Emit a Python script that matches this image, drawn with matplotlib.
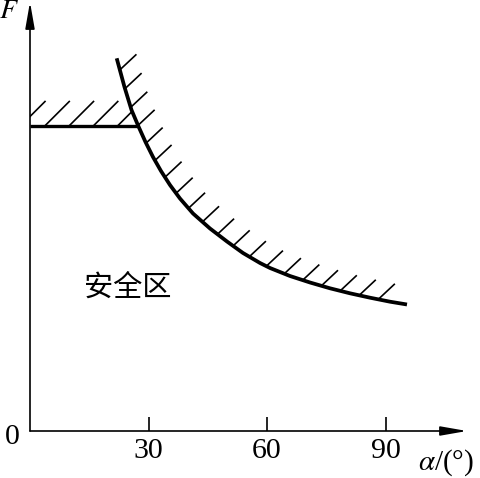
import numpy as np
import matplotlib
matplotlib.use('Agg')
import matplotlib.pyplot as plt
from matplotlib.patches import Polygon

plt.rcParams['mathtext.fontset'] = 'stix'
plt.rcParams['font.family'] = ['Liberation Serif', 'DejaVu Serif']

# ---- data ----
curve_alpha = [21.95, 23.92, 25.70, 27.47, 29.24, 31.14, 33.16, 35.44, 37.97,
               41.27, 45.57, 49.87, 53.92, 58.23, 60.76, 65.82, 70.89, 75.95,
               81.01, 86.08, 91.14, 95.44]
curve_F = [372.7, 344, 321, 304.5, 289, 274, 260, 246, 232.5,
           217.5, 202.5, 189.5, 178, 168, 163, 155, 148.5, 142.7,
           137.7, 133.3, 129.3, 126.5]
limit_F = 305.5
x_ticks = [30, 60, 90]
x_tick_labels = ['30', '60', '90']
origin_label = '0'
y_label = '$F$'
x_label = r'$\alpha$/(°)'
region_label = '安全区'

# ---- figure ----
fig = plt.figure(figsize=(4.8, 4.78), dpi=100)
ax = fig.add_axes([0, 0, 1, 1])
px_per_deg = 3.95
ax.set_xlim(-30 / px_per_deg, 450 / px_per_deg)
ax.set_ylim(-47, 431)
for s in ax.spines.values():
    s.set_visible(False)
ax.spines['bottom'].set_position(('data', 0))
ax.set_yticks([])
ax.set_xticks(x_ticks)
ax.set_xticklabels(x_tick_labels)
ax.tick_params(axis='x', direction='in', length=10, width=1.2, pad=5,
               labelsize=21.5, colors='k')

x_tip = (467 - 30) / px_per_deg
y_tip = 429
arrow = dict(arrowstyle='-|>,head_length=1.6,head_width=0.28', lw=1.2,
             color='k', shrinkA=0, shrinkB=0, mutation_scale=10)
ax.annotate('', xy=(x_tip, 0), xytext=(0, 0), arrowprops=arrow)
ax.annotate('', xy=(0, y_tip), xytext=(0, 0), arrowprops=arrow)

# labels
ax.annotate(origin_label, xy=(0, 0), xytext=(-13, -4), textcoords='offset points',
            ha='center', va='center', fontsize=21.5)
ax.annotate(y_label, xy=(0, y_tip), xytext=(-15, -7), textcoords='offset points',
            ha='center', va='center', fontsize=20)
ax.annotate(x_label, xy=(x_tip, 0), xytext=(-15, -23), textcoords='offset points',
            ha='center', va='center', fontsize=21)
ax.text(24.7, 143, region_label, ha='center', va='center', fontsize=21,
        family=['Noto Sans CJK SC', 'DejaVu Sans'])

# limit line and curve
alpha_int = float(np.interp(limit_F, curve_F[::-1], curve_alpha[::-1]))
ax.plot([0, alpha_int], [limit_F, limit_F], color='k', lw=2.4,
        solid_capstyle='butt')
ax.plot(curve_alpha, curve_F, color='k', lw=2.7, solid_joinstyle='round',
        solid_capstyle='butt')

inv = ax.transData.inverted()

# hatch along the curve (on the unsafe side)
disp = ax.transData.transform(np.column_stack([curve_alpha, curve_F]))
seglen = np.hypot(*np.diff(disp, axis=0).T)
cum = np.concatenate([[0], np.cumsum(seglen)])
s_vals = np.arange(12, cum[-1] - 10, 19.5)
hx = np.interp(s_vals, cum, disp[:, 0])
hy = np.interp(s_vals, cum, disp[:, 1])
for x0, y0 in zip(hx, hy):
    p0 = inv.transform((x0, y0))
    p1 = inv.transform((x0 + 16, y0 + 15))
    ax.plot([p0[0], p1[0]], [p0[1], p1[1]], color='k', lw=1.2)

# hatch above the horizontal limit, clipped to the region left of the curve
above = [i for i in range(len(curve_F)) if curve_F[i] > limit_F]
verts = ([(0, limit_F), (alpha_int, limit_F)]
         + [(curve_alpha[i], curve_F[i]) for i in reversed(above)]
         + [(curve_alpha[0], 431), (0, 431)])
clip = Polygon(verts, closed=True, transform=ax.transData)
x_origin_disp, y_lim_disp = ax.transData.transform((0, limit_F))
x_int_disp = ax.transData.transform((alpha_int, limit_F))[0]
H = 24
xs = np.arange(x_origin_disp - 9, x_int_disp, 24.25)
for x0 in xs:
    p0 = inv.transform((x0, y_lim_disp))
    p1 = inv.transform((x0 + H, y_lim_disp + H))
    ln, = ax.plot([p0[0], p1[0]], [p0[1], p1[1]], color='k', lw=1.2)
    ln.set_clip_path(clip)

fig.savefig('out.png', dpi=100)
